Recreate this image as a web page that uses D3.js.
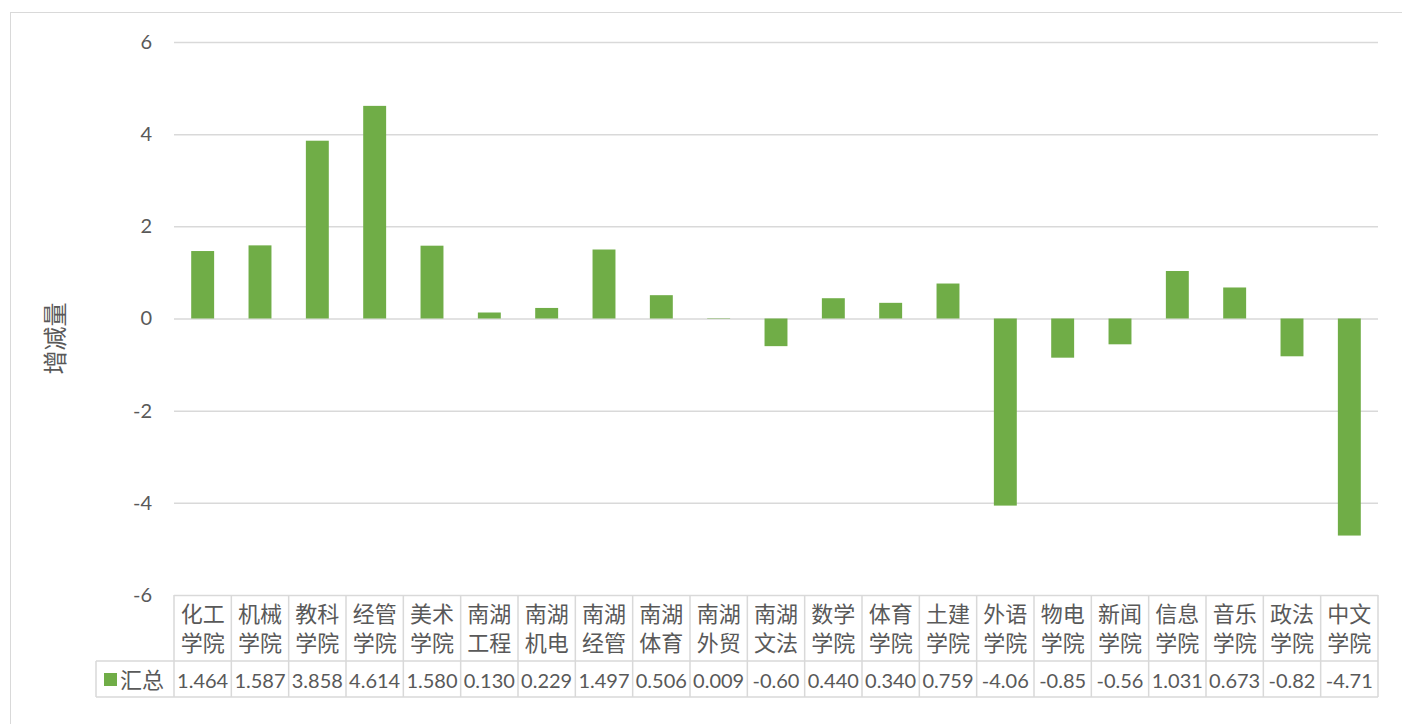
<!DOCTYPE html>
<html>
<head>
<meta charset="utf-8">
<script src="https://cdn.jsdelivr.net/npm/d3@7"></script>
<style>
  body { margin: 0; background: #fff; }
  svg text { fill: #595959; }
</style>
</head>
<body>
<script>
// Data
const categories = [
    ["化工", "学院"], ["机械", "学院"], ["教科", "学院"], ["经管", "学院"], ["美术", "学院"],
    ["南湖", "工程"], ["南湖", "机电"], ["南湖", "经管"], ["南湖", "体育"], ["南湖", "外贸"],
    ["南湖", "文法"], ["数学", "学院"], ["体育", "学院"], ["土建", "学院"], ["外语", "学院"],
    ["物电", "学院"], ["新闻", "学院"], ["信息", "学院"], ["音乐", "学院"], ["政法", "学院"],
    ["中文", "学院"]
];
const values = [1.464, 1.587, 3.858, 4.614, 1.580, 0.130, 0.229, 1.497, 0.506, 0.009,
    -0.60, 0.440, 0.340, 0.759, -4.06, -0.85, -0.56, 1.031, 0.673, -0.82, -4.71];
const valueLabels = ["1.464", "1.587", "3.858", "4.614", "1.580", "0.130", "0.229", "1.497",
    "0.506", "0.009", "-0.60", "0.440", "0.340", "0.759", "-4.06", "-0.85", "-0.56", "1.031",
    "0.673", "-0.82", "-4.71"];
const yTicks = [-6, -4, -2, 0, 2, 4, 6];
const seriesName = "汇总";
const axisTitle = "增减量";

const width = 1402;
const height = 724;
const green = "#70ad47";
const gridColor = "#d9d9d9";
const cjk = "'Noto Sans CJK SC', sans-serif";
const numFont = "Lato, 'Open Sans', sans-serif";

const margin = { left: 174, right: 24, top: 42, bottom: 129 };

const svg = d3.select("body")
    .append("svg")
    .attr("width", width)
    .attr("height", height);

// chart area border
svg.append("rect")
    .attr("x", 10.5).attr("y", 12.5)
    .attr("width", 1420).attr("height", 740)
    .attr("fill", "none")
    .attr("stroke", gridColor);

const x = d3.scaleBand()
    .domain(d3.range(categories.length))
    .range([margin.left, width - margin.right])
    .paddingInner(0.6)
    .paddingOuter(0.3);

const xCell = d3.scaleBand()
    .domain(d3.range(categories.length))
    .range([margin.left, width - margin.right]);

const y = d3.scaleLinear()
    .domain([-6, 6])
    .range([height - margin.bottom, margin.top]);

// gridlines and tick labels
const yAxis = svg.append("g")
    .attr("transform", `translate(${margin.left},0)`)
    .call(d3.axisLeft(y).tickValues(yTicks).tickSize(-(width - margin.left - margin.right)).tickPadding(22).tickFormat(d => String(d)));
yAxis.select(".domain").remove();
yAxis.selectAll("line").attr("stroke", gridColor).attr("stroke-width", 1.5);
yAxis.selectAll("text")
    .attr("font-family", numFont)
    .attr("font-size", 20)
    .style("fill", "#595959");

// bars
svg.append("g")
    .selectAll("rect")
    .data(values)
    .join("rect")
    .attr("x", (d, i) => x(i))
    .attr("y", d => y(Math.max(0, d)))
    .attr("width", x.bandwidth())
    .attr("height", d => Math.abs(y(d) - y(0)))
    .attr("fill", green);

// data table
const tableTop = y(-6);
const headerH = 66;
const rowH = 36;
const legendLeft = 96;
const table = svg.append("g");
const right = width - margin.right;

const lines = [
    [margin.left, tableTop, margin.left, tableTop + headerH + rowH],
    [right, tableTop, right, tableTop + headerH + rowH],
    [legendLeft, tableTop + headerH, right, tableTop + headerH],
    [legendLeft, tableTop + headerH + rowH, right, tableTop + headerH + rowH],
    [legendLeft, tableTop + headerH, legendLeft, tableTop + headerH + rowH]
];
categories.forEach((c, i) => {
    if (i > 0) lines.push([xCell(i), tableTop, xCell(i), tableTop + headerH + rowH]);
});
table.selectAll("line")
    .data(lines)
    .join("line")
    .attr("x1", d => d[0]).attr("y1", d => d[1])
    .attr("x2", d => d[2]).attr("y2", d => d[3])
    .attr("stroke", gridColor)
    .attr("stroke-width", 1.5);

// category labels
const catText = table.selectAll("text.cat")
    .data(categories)
    .join("text")
    .attr("class", "cat")
    .attr("x", (d, i) => xCell(i) + xCell.bandwidth() / 2)
    .attr("text-anchor", "middle")
    .attr("font-family", cjk)
    .attr("font-size", 22);
catText.append("tspan")
    .attr("x", (d, i) => xCell(i) + xCell.bandwidth() / 2)
    .attr("y", tableTop + 27)
    .text(d => d[0]);
catText.append("tspan")
    .attr("x", (d, i) => xCell(i) + xCell.bandwidth() / 2)
    .attr("y", tableTop + 56)
    .text(d => d[1]);

// value labels
table.selectAll("text.val")
    .data(valueLabels)
    .join("text")
    .attr("class", "val")
    .attr("x", (d, i) => xCell(i) + xCell.bandwidth() / 2)
    .attr("y", tableTop + headerH + 27)
    .attr("text-anchor", "middle")
    .attr("font-family", numFont)
    .attr("font-size", 20)
    .text(d => d);

// legend key
table.append("rect")
    .attr("x", 104).attr("y", tableTop + headerH + 12)
    .attr("width", 13).attr("height", 13)
    .attr("fill", green);
table.append("text")
    .attr("x", 120)
    .attr("y", tableTop + headerH + 27)
    .attr("font-family", cjk)
    .attr("font-size", 22)
    .text(seriesName);

// axis title
svg.append("text")
    .attr("transform", `translate(64,${(y(6) + y(-6)) / 2 + 20}) rotate(-90)`)
    .attr("text-anchor", "middle")
    .attr("font-family", cjk)
    .attr("font-size", 24)
    .text(axisTitle);
</script>
</body>
</html>
